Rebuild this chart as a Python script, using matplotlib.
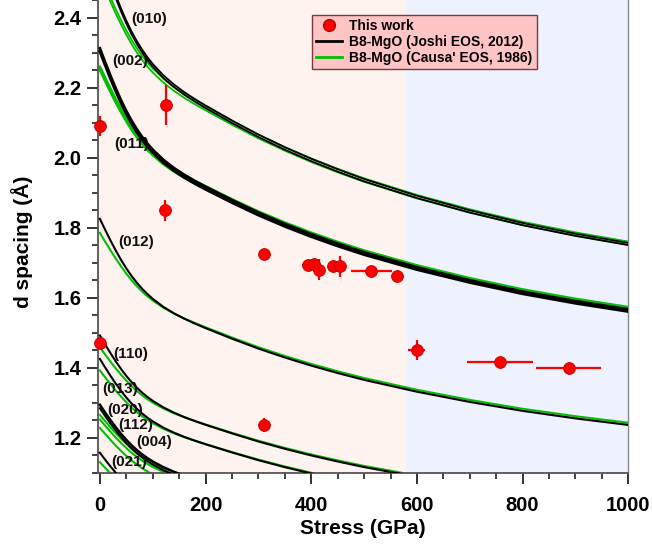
import matplotlib
matplotlib.use("Agg")
import matplotlib.pyplot as plt
from matplotlib.lines import Line2D
from matplotlib.ticker import MultipleLocator

plt.rcParams['font.family'] = ['Liberation Sans', 'DejaVu Sans']
plt.rcParams['font.weight'] = 'bold'

# ---------------- data ----------------
pressure = [0, 10, 20, 30, 40, 50, 60, 70, 80, 90, 100, 120, 140, 160, 180, 200,
            250, 300, 350, 400, 450, 500, 600, 700, 800, 900, 1000]

# B8-MgO, Joshi EOS (2012) -- black curves (d in Angstrom vs pressure)
joshi_010a = [2.592, 2.5474, 2.5044, 2.4637, 2.4259, 2.3911, 2.3600, 2.3325, 2.3082, 2.2867, 2.2675,
              2.2351, 2.2089, 2.1866, 2.1669, 2.1488, 2.1060, 2.0658, 2.0295, 1.9966, 1.9666, 1.9388,
              1.8909, 1.8494, 1.8131, 1.7825, 1.7561]
joshi_010b = [2.583, 2.5386, 2.4957, 2.4552, 2.4175, 2.3828, 2.3518, 2.3244, 2.3002, 2.2788, 2.2596,
              2.2273, 2.2012, 2.1790, 2.1594, 2.1413, 2.0987, 2.0586, 2.0225, 1.9897, 1.9598, 1.9321,
              1.8843, 1.8430, 1.8068, 1.7763, 1.7500]
joshi_002 = [2.312, 2.2722, 2.2339, 2.1976, 2.1638, 2.1328, 2.1051, 2.0806, 2.0588, 2.0396, 2.0225,
             1.9936, 1.9703, 1.9504, 1.9328, 1.9166, 1.8785, 1.8427, 1.8103, 1.7809, 1.7541, 1.7294,
             1.6866, 1.6496, 1.6172, 1.5900, 1.5664]
joshi_011 = [2.303, 2.2634, 2.2252, 2.1891, 2.1554, 2.1245, 2.0969, 2.0725, 2.0508, 2.0317, 2.0146,
             1.9858, 1.9626, 1.9428, 1.9253, 1.9091, 1.8712, 1.8355, 1.8033, 1.7740, 1.7473, 1.7227,
             1.6800, 1.6432, 1.6109, 1.5838, 1.5603]
joshi_012 = [1.825, 1.7936, 1.7633, 1.7347, 1.7080, 1.6836, 1.6617, 1.6423, 1.6252, 1.6100, 1.5965,
             1.5737, 1.5553, 1.5396, 1.5257, 1.5129, 1.4828, 1.4545, 1.4290, 1.4058, 1.3846, 1.3651,
             1.3313, 1.3021, 1.2766, 1.2551, 1.2364]
joshi_110 = [1.492, 1.4663, 1.4416, 1.4181, 1.3964, 1.3764, 1.3585, 1.3427, 1.3286, 1.3162, 1.3052,
             1.2866, 1.2715, 1.2587, 1.2473, 1.2369, 1.2123, 1.1891, 1.1682, 1.1493, 1.1320, 1.1160,
             1.0884]
joshi_013 = [1.425, 1.4005, 1.3768, 1.3545, 1.3337, 1.3146, 1.2975, 1.2824, 1.2690, 1.2571, 1.2466,
             1.2288, 1.2144, 1.2021, 1.1913, 1.1813, 1.1578, 1.1357, 1.1158, 1.0977, 1.0811]
joshi_020 = [1.294, 1.2717, 1.2503, 1.2299, 1.2111, 1.1937, 1.1782, 1.1645, 1.1523, 1.1416, 1.1320,
             1.1158, 1.1027, 1.0916]
joshi_112 = [1.284, 1.2619, 1.2406, 1.2204, 1.2017, 1.1845, 1.1691, 1.1555, 1.1434, 1.1327, 1.1232,
             1.1072, 1.0942, 1.0832]
joshi_021 = [1.157, 1.1371, 1.1179, 1.0997, 1.0828, 1.0673]

# B8-MgO, Causa' EOS (1986) -- green curves
causa_010a = [2.528, 2.4921, 2.4575, 2.4238, 2.3925, 2.3632, 2.3359, 2.3121, 2.2904, 2.2712, 2.2545,
              2.2257, 2.2019, 2.1814, 2.1632, 2.1460, 2.1046, 2.0654, 2.0300, 1.9976, 1.9680, 1.9407,
              1.8932, 1.8523, 1.8164, 1.7863, 1.7600]
causa_010b = [2.515, 2.4793, 2.4449, 2.4113, 2.3802, 2.3510, 2.3239, 2.3002, 2.2786, 2.2595, 2.2429,
              2.2143, 2.1906, 2.1702, 2.1521, 2.1350, 2.0938, 2.0548, 2.0196, 1.9873, 1.9579, 1.9307,
              1.8835, 1.8428, 1.8071, 1.7771, 1.7510]
causa_002 = [2.259, 2.2269, 2.1960, 2.1659, 2.1379, 2.1117, 2.0873, 2.0661, 2.0467, 2.0295, 2.0146,
             1.9888, 1.9676, 1.9493, 1.9330, 1.9177, 1.8806, 1.8456, 1.8140, 1.7851, 1.7586, 1.7342,
             1.6918, 1.6552, 1.6231, 1.5962, 1.5727]
causa_011 = [2.251, 2.2190, 2.1882, 2.1582, 2.1303, 2.1042, 2.0799, 2.0588, 2.0395, 2.0223, 2.0075,
             1.9818, 1.9606, 1.9424, 1.9262, 1.9109, 1.8740, 1.8391, 1.8076, 1.7788, 1.7524, 1.7281,
             1.6858, 1.6493, 1.6173, 1.5906, 1.5671]
causa_012 = [1.785, 1.7597, 1.7352, 1.7115, 1.6893, 1.6686, 1.6493, 1.6326, 1.6172, 1.6036, 1.5919,
             1.5715, 1.5547, 1.5403, 1.5274, 1.5153, 1.4860, 1.4583, 1.4334, 1.4105, 1.3896, 1.3703,
             1.3368, 1.3079, 1.2825, 1.2613, 1.2427]
causa_110 = [1.458, 1.4373, 1.4173, 1.3979, 1.3799, 1.3629, 1.3472, 1.3335, 1.3209, 1.3099, 1.3002,
             1.2836, 1.2699, 1.2581, 1.2476, 1.2377, 1.2138, 1.1912, 1.1708, 1.1521, 1.1350, 1.1193,
             1.0919]
causa_013 = [1.392, 1.3722, 1.3532, 1.3346, 1.3174, 1.3012, 1.2862, 1.2731, 1.2612, 1.2506, 1.2414,
             1.2255, 1.2124, 1.2012, 1.1911, 1.1817, 1.1588, 1.1373, 1.1178, 1.0999, 1.0837]
causa_020 = [1.265, 1.2470, 1.2297, 1.2129, 1.1972, 1.1825, 1.1689, 1.1570, 1.1461, 1.1365, 1.1281,
             1.1137, 1.1018, 1.0916]
causa_112 = [1.252, 1.2342, 1.2171, 1.2004, 1.1849, 1.1704, 1.1568, 1.1451, 1.1343, 1.1248, 1.1165,
             1.1023, 1.0905, 1.0804]
causa_004 = [1.228, 1.2106, 1.1937, 1.1774, 1.1622, 1.1479, 1.1347, 1.1231, 1.1126, 1.1032, 1.0951,
             1.0811]
causa_021 = [1.130, 1.1140, 1.0985, 1.0834, 1.0694, 1.0563]

# This work (measured)
work_stress = [0, 125, 124, 310, 394, 405, 415, 441, 455, 514, 563, 0, 310, 600, 757, 887]
work_d = [2.090, 2.150, 1.849, 1.725, 1.692, 1.697, 1.680, 1.690, 1.690, 1.676, 1.662, 1.470, 1.235, 1.451, 1.416, 1.400]
work_xerr = [0, 0, 0, 0, 12, 0, 10, 8, 10, 38, 0, 0, 0, 16, 63, 62]
work_yerr = [0.028, 0.058, 0.029, 0, 0, 0.012, 0.030, 0.010, 0.030, 0, 0, 0, 0.020, 0.028, 0, 0]

# reflection labels
hkl_labels = ['(010)', '(002)', '(011)', '(012)', '(110)', '(013)', '(020)', '(112)', '(004)', '(021)']
hkl_label_x = [93, 58, 60, 68, 59, 38, 48, 67, 102, 55]
hkl_label_y = [2.395, 2.276, 2.038, 1.759, 1.440, 1.340, 1.279, 1.235, 1.189, 1.131]

low_phase_end = 580  # shading boundary (GPa)

# ---------------- figure ----------------
W, H = 652, 551
fig = plt.figure(figsize=(W / 100, H / 100), dpi=100)
ax = fig.add_axes([98.3 / W, (H - 472.7) / H, (628.3 - 98.3) / W, 472.7 / H])

ax.set_xlim(-3, 1000)
ax.set_ylim(1.1, 2.45)

ax.axvspan(-3, low_phase_end, color='#FFF3EF', zorder=0, lw=0)
ax.axvspan(low_phase_end, 1000, color='#EDF2FE', zorder=0, lw=0)

BLACK = '#000000'
GREEN = '#00C000'

thin_lw = 1.5
green_curves = [(causa_010a, 1.3), (causa_010b, 1.3), (causa_002, 2.0), (causa_011, 2.0),
                (causa_012, thin_lw), (causa_110, thin_lw), (causa_013, thin_lw),
                (causa_020, thin_lw), (causa_112, thin_lw), (causa_004, thin_lw), (causa_021, thin_lw)]
black_curves = [(joshi_010a, 1.3), (joshi_010b, 1.3), (joshi_002, 2.0), (joshi_011, 2.0),
                (joshi_012, thin_lw), (joshi_110, thin_lw), (joshi_013, thin_lw),
                (joshi_020, 1.8), (joshi_112, thin_lw), (joshi_021, thin_lw)]
for curve, lw in green_curves:
    ax.plot(pressure[:len(curve)], curve, color=GREEN, lw=lw, zorder=2, solid_joinstyle='round')
for curve, lw in black_curves:
    ax.plot(pressure[:len(curve)], curve, color=BLACK, lw=lw, zorder=3, solid_joinstyle='round')

# measured points
for x, y, xe, ye in zip(work_stress, work_d, work_xerr, work_yerr):
    ax.errorbar([x], [y], xerr=[xe] if xe else None, yerr=[ye] if ye else None,
                fmt='o', color='#FF0000', ecolor='#FF0000', elinewidth=1.6, capsize=0,
                markersize=8.5, markeredgecolor='#C00000', markeredgewidth=0.6,
                zorder=5, clip_on=False)

for lab, lx, ly in zip(hkl_labels, hkl_label_x, hkl_label_y):
    ax.text(lx, ly, lab, fontsize=11, fontweight='bold', ha='center', va='center',
            color='#111111', zorder=6)

# axes styling
ax.xaxis.set_major_locator(MultipleLocator(200))
ax.xaxis.set_minor_locator(MultipleLocator(50))
ax.yaxis.set_major_locator(MultipleLocator(0.2))
ax.yaxis.set_minor_locator(MultipleLocator(0.05))
ax.tick_params(axis='both', which='major', direction='out', length=8, width=1.3,
               labelsize=14.5, colors='#222222')
ax.tick_params(axis='both', which='minor', direction='out', length=4.5, width=1.2, colors='#222222')
ax.tick_params(axis='x', which='major', pad=9)
ax.tick_params(axis='y', which='major', pad=4)
ax.tick_params(top=False, right=False, which='both')
for lbl in ax.get_xticklabels() + ax.get_yticklabels():
    lbl.set_fontweight('bold')
    lbl.set_color('black')

ax.spines['top'].set_visible(False)
ax.spines['right'].set_color('#888888')
ax.spines['right'].set_linewidth(1.0)
ax.spines['left'].set_color('#555555')
ax.spines['bottom'].set_color('#555555')
ax.spines['left'].set_linewidth(1.3)
ax.spines['bottom'].set_linewidth(1.3)

ax.set_xlabel('Stress (GPa)', fontsize=15, fontweight='bold', labelpad=3)
ax.set_ylabel('d spacing (Å)', fontsize=15, fontweight='bold')
ax.yaxis.set_label_coords(-0.123, 0.488)

handles = [
    Line2D([0], [0], marker='o', color='none', markerfacecolor='#FF0000',
           markeredgecolor='#C00000', markersize=8.5),
    Line2D([0], [0], color=BLACK, lw=2),
    Line2D([0], [0], color=GREEN, lw=2),
]
labels = ['This work', 'B8-MgO (Joshi EOS, 2012)', "B8-MgO (Causa' EOS, 1986)"]
leg = ax.legend(handles, labels, loc='upper left', bbox_to_anchor=(0.4025, 0.968),
                borderaxespad=0, prop={'weight': 'bold', 'size': 10},
                handlelength=1.9, handletextpad=0.5, borderpad=0.3, labelspacing=0.12,
                fancybox=False, framealpha=1, facecolor='#FFC4C4', edgecolor='#7A3A3A')
leg.get_frame().set_linewidth(1.0)
leg.set_zorder(10)

fig.savefig('out.png', dpi=100)
